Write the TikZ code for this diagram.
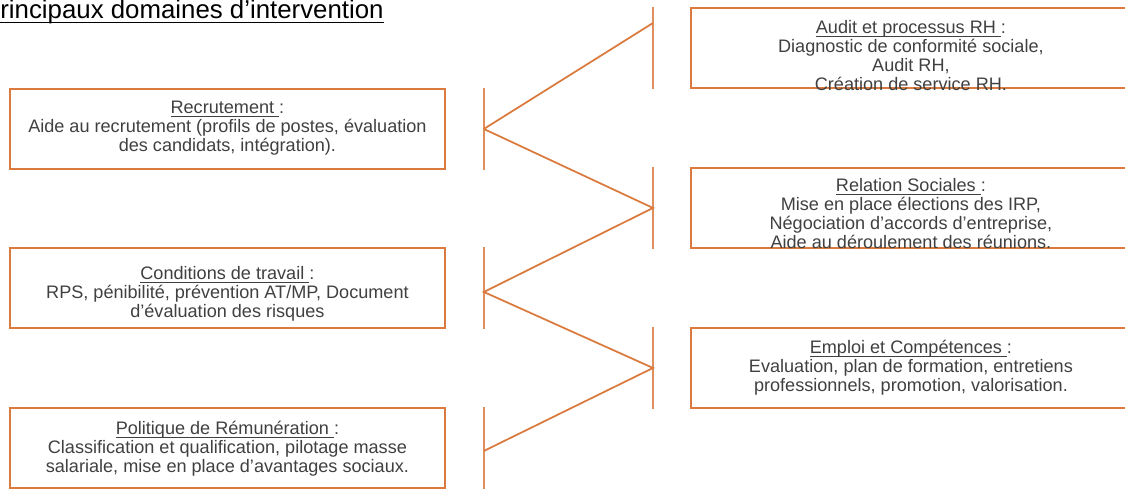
\documentclass[tikz,border=0pt]{standalone}
\usepackage{fontspec}
\setmainfont{Liberation Sans}
\usetikzlibrary{calc}
\definecolor{orangeRH}{RGB}{218,122,62}
\newcommand\rubrique[1]{\underline{\smash{#1}\ }:}

\begin{document}
\begin{tikzpicture}[x=0.02cm,y=-0.02cm,
    boite/.style={draw=orangeRH,line width=1.1pt,inner sep=0pt,anchor=north west,minimum height=1.6cm},
    gauche/.style={boite,minimum width=8.7cm},
    droite/.style={boite,minimum width=8.8cm},
    texte/.style={anchor=north,inner sep=0pt,align=center,text=black!75,font=\fontsize{10.3pt}{10.8pt}\selectfont},
    barre/.style={draw=orangeRH!85,line width=1.4pt},
    lien/.style={draw=orangeRH,line width=1pt}]
    \useasboundingbox (0,0) rectangle (1125,488);

    \node[anchor=base west,inner sep=0pt,font=\fontsize{14.7pt}{17pt}\selectfont] (titre) at (0,18.5)
        {\underline{\smash{rincipaux domaines d’intervention}\rule[-1pt]{0pt}{1pt}}};

    % 左侧框
    \node[gauche] (recrut) at (9,88) {};
    \node[gauche] (cond) at (9,247) {};
    \node[gauche] (polit) at (9,407) {};
    % 右侧框
    \node[droite] (audit) at (690,7) {};
    \node[droite] (relation) at (690,167) {};
    \node[droite] (emploi) at (690,327) {};

    \node[texte] (tRecrut) at ($(recrut.north)+(0,16)$) {\rubrique{Recrutement}\\Aide au recrutement (profils de postes, évaluation\\des candidats, intégration).};
    \node[texte] (tCond) at ($(cond.north)+(0,23)$) {\rubrique{Conditions de travail}\\RPS, pénibilité, prévention AT/MP, Document\\d'évaluation des risques};
    \node[texte] (tPolit) at ($(polit.north)+(0,18)$) {\rubrique{Politique de Rémunération}\\Classification et qualification, pilotage masse\\salariale, mise en place d'avantages sociaux.};
    \node[texte] (tAudit) at ($(audit.north)+(0,17)$) {\rubrique{Audit et processus RH}\\Diagnostic de conformité sociale,\\Audit RH,\\Création de service RH.};
    \node[texte] (tRelation) at ($(relation.north)+(0,15)$) {\rubrique{Relation Sociales}\\Mise en place élections des IRP,\\Négociation d'accords d'entreprise,\\Aide au déroulement des réunions.};
    \node[texte] (tEmploi) at ($(emploi.north)+(0,17)$) {\rubrique{Emploi et Compétences}\\Evaluation, plan de formation, entretiens\\professionnels, promotion, valorisation.};

    % 竖线
    \draw[barre] ($(recrut.north east)+(38,0)$) -- ($(recrut.south east)+(38,0)$);
    \draw[barre] ($(cond.north east)+(38,0)$) -- ($(cond.south east)+(38,0)$);
    \draw[barre] ($(polit.north east)+(38,0)$) -- ($(polit.south east)+(38,1)$);
    \draw[barre] ($(audit.north west)+(-37,0)$) -- ($(audit.south west)+(-37,0)$);
    \draw[barre] ($(relation.north west)+(-37,0)$) -- ($(relation.south west)+(-37,0)$);
    \draw[barre] ($(emploi.north west)+(-37,0)$) -- ($(emploi.south west)+(-37,0)$);

    \coordinate (pRecrut) at ($(recrut.east)+(38,0)$);
    \coordinate (pCond) at ($(cond.east)+(38,4)$);
    \coordinate (pPolit) at ($(polit.east)+(38,3)$);
    \coordinate (pAudit) at ($(audit.north west)+(-37,16)$);
    \coordinate (pRelation) at ($(relation.west)+(-37,0)$);
    \coordinate (pEmploi) at ($(emploi.west)+(-37,0)$);

    \draw[lien] (pRecrut) -- (pAudit);
    \draw[lien] (pRecrut) -- (pRelation) -- (pCond) -- (pEmploi) -- (pPolit);
\end{tikzpicture}
\end{document}
